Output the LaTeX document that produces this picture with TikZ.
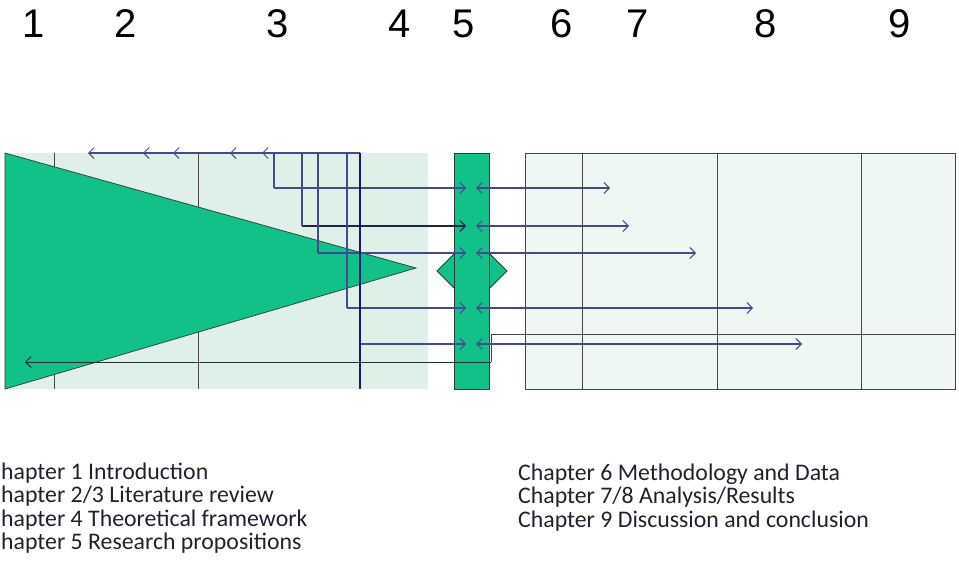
\documentclass[tikz,border=0pt]{standalone}
\usepackage{fontspec}
\setmainfont{Carlito}
\newfontfamily\numfont{Liberation Sans}
\usetikzlibrary{arrows.meta}

\definecolor{mintfill}{RGB}{222,240,232}
\definecolor{palefill}{RGB}{238,247,242}
\definecolor{bargreen}{RGB}{18,192,138}
\definecolor{linknavy}{RGB}{68,74,145}
\definecolor{linkdark}{RGB}{32,34,80}
\definecolor{spine}{RGB}{22,24,115}
\definecolor{gridgray}{RGB}{70,72,72}
\definecolor{edgedark}{RGB}{40,60,52}
\definecolor{inkgray}{RGB}{35,32,45}

\begin{document}
\begin{tikzpicture}[x=1pt,y=-1pt,
  grid/.style={draw=gridgray, line width=0.9pt},
  link/.style={draw=linknavy, line width=1.05pt},
  barb/.tip={Straight Barb[length=5.5pt,width=11pt]},
  tipend/.style={-barb},
  tipboth/.style={barb-barb},
  numlabel/.style={font=\numfont\fontsize{40}{42}\selectfont, anchor=base, inner sep=0pt},
  legend/.style={font=\fontsize{23.8}{23.5}\selectfont, text=inkgray, anchor=base west, inner sep=0pt}]

\useasboundingbox (0,0) rectangle (959,573);

% chapter numbers
\foreach \n/\x in {1/34,2/126,3/278,4/400,5/464,6/562,7/638,8/766,9/900}
  \node[numlabel] (num\n) at (\x,37) {\n};

% left block: chapters 1-4
\fill[mintfill] (5,153) rectangle (428,389);
\draw[grid] (54,153) -- (54,389);
\draw[grid] (198,153) -- (198,389);

% growing triangle
\filldraw[fill=bargreen, draw=edgedark, line width=0.7pt]
  (5,153) -- (416,268) -- (5,389) -- cycle;

% right block: chapters 6-9
\filldraw[fill=palefill, draw=gridgray, line width=0.9pt] (525,153) rectangle (955,389);
\draw[grid] (582,153) -- (582,389);
\draw[grid] (717,153) -- (717,389);
\draw[grid] (861,153) -- (861,389);

% central column with diamond
\filldraw[fill=bargreen, draw=edgedark, line width=0.8pt]
  (437,271) -- (472,236) -- (507,271) -- (472,306) -- cycle;
\filldraw[fill=bargreen, draw=edgedark, line width=0.8pt] (454,153) rectangle (489,389);

% link coordinates: source on top line, bend, column in/out, target
\foreach \i/\sx/\tx/\y/\ex in {1/274/262/188/610, 2/302/230/226/629, 3/318/173/253/696, 4/347/143/308/753, 5/360/88/344/802}{
  \coordinate (s\i) at (\sx,153);
  \coordinate (t\i) at (\tx,153);
  \coordinate (b\i) at (\sx,\y);
  \coordinate (m\i) at (466,\y);
  \coordinate (r\i) at (476,\y);
  \coordinate (e\i) at (\ex,\y);
}
\coordinate (spinebottom) at (360,389);

% feedback along the top edge
\foreach \i in {1,...,5}
  \draw[link, tipend] (s\i) -- (t\i);

% links into and out of the column
\foreach \i in {1,3,4,5}{
  \draw[link, tipend] (b\i) -- (m\i);
  \draw[link, tipboth] (r\i) -- (e\i);
}
\draw[link, draw=linkdark, tipend] (b2) -- (m2);
\draw[link, tipboth] (r2) -- (e2);
\foreach \i in {1,2,3,4}
  \draw[link] (s\i) -- (b\i);
\draw[draw=spine, line width=1.3pt] (s5) -- (spinebottom);

% return path to the start
\coordinate (rowend) at (955,334);
\coordinate (rowbend) at (491,334);
\coordinate (rowdrop) at (491,362);
\coordinate (backend) at (25,362);
\draw[grid] (rowend) -- (rowbend);
\draw[draw=gridgray, line width=0.9pt] (rowbend) -- (rowdrop);
\draw[draw=edgedark!80!black, line width=1pt, tipend] (rowdrop) -- (backend);

% legend
\node[legend] (leg1) at (1,479) {hapter 1 Introduction};
\node[legend] (leg2) at (1,502.5) {hapter 2/3 Literature review};
\node[legend] (leg3) at (1,526) {hapter 4 Theoretical framework};
\node[legend] (leg4) at (1,549.5) {hapter 5 Research propositions};
\node[legend] (leg6) at (518,480) {Chapter 6 Methodology and Data};
\node[legend] (leg7) at (518,503.5) {Chapter 7/8 Analysis/Results};
\node[legend] (leg9) at (518,527) {Chapter 9 Discussion and conclusion};
\end{tikzpicture}
\end{document}
